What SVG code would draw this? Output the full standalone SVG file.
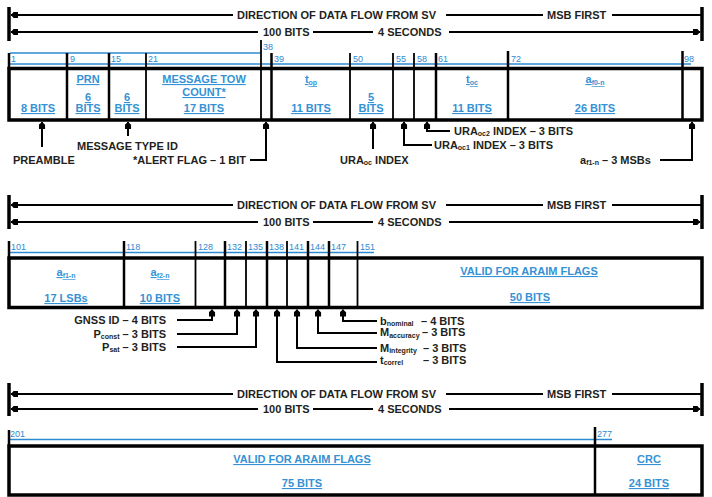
<svg xmlns="http://www.w3.org/2000/svg" width="712" height="497" viewBox="0 0 712 497">
<defs>
<style>
.hd{font-family:"Liberation Sans",Arial,sans-serif;font-size:11px;font-weight:bold;fill:#231f20}
.lbe{font-family:"Liberation Sans",Arial,sans-serif;font-size:11px;font-weight:bold;fill:#231f20;text-anchor:end}
.bl{font-family:"Liberation Sans",Arial,sans-serif;font-size:11px;font-weight:bold;fill:#3592d4;text-decoration:underline;text-anchor:middle}
.num{font-family:"Liberation Sans",Arial,sans-serif;font-size:9px;fill:#2b8ad2}
.sb{font-size:7px}
.bar{stroke:#000;stroke-width:3.5}
.box{stroke:#000;stroke-width:3.5;fill:none}
.dv{stroke:#000;stroke-width:2.5}
.dt{stroke:#000;stroke-width:1.8}
.bu{stroke:#2b8ad2;stroke-width:1.5}
.ar{stroke:#000;stroke-width:2;fill:none;marker-end:url(#ah)}
.hl{stroke:#000;stroke-width:2;fill:none}
.hla{stroke:#000;stroke-width:2;fill:none;marker-start:url(#ah)}
.hlb{stroke:#000;stroke-width:2;fill:none;marker-end:url(#ah)}
</style>
<marker id="ah" markerUnits="userSpaceOnUse" markerWidth="7" markerHeight="7" viewBox="0 0 8 8" refX="8" refY="4" orient="auto-start-reverse"><path d="M0,0.5 L5,0.5 L8,4 L5,7.5 L0,7.5 Z" fill="#000"/></marker>
</defs>

<!-- ============ SECTION 1 ============ -->
<g id="header1">
<line class="bar" x1="9" y1="7" x2="9" y2="41"/>
<line class="bar" x1="702" y1="7" x2="702" y2="41"/>
<line class="hla" x1="11" y1="15" x2="233" y2="15"/>
<line class="hl" x1="446" y1="15" x2="543" y2="15"/>
<line class="hl" x1="612" y1="15" x2="701" y2="15"/>
<line class="hla" x1="11" y1="32" x2="258" y2="32"/>
<line class="hl" x1="313" y1="32" x2="373" y2="32"/>
<line class="hlb" x1="449" y1="32" x2="700" y2="32"/>
<text class="hd" x="237" y="19">DIRECTION OF DATA FLOW FROM SV</text>
<text class="hd" x="547" y="19">MSB FIRST</text>
<text class="hd" x="263" y="36">100 BITS</text>
<text class="hd" x="378" y="36">4 SECONDS</text>
</g>

<g id="word1">
<line class="bu" x1="10" y1="53" x2="261" y2="53"/>
<line class="bu" x1="10" y1="64" x2="691" y2="64"/>
<rect class="box" x="9" y="68.5" width="693" height="51.5"/>
<line class="dv" x1="9" y1="53" x2="9" y2="70"/>
<line class="dv" x1="67" y1="53" x2="67" y2="120"/>
<line class="dv" x1="109" y1="53" x2="109" y2="120"/>
<line class="dt" x1="146" y1="53" x2="146" y2="120"/>
<line class="dt" x1="261" y1="40" x2="261" y2="120"/>
<line class="dv" x1="271.5" y1="53" x2="271.5" y2="120"/>
<line class="dt" x1="350" y1="53" x2="350" y2="120"/>
<line class="dt" x1="393" y1="53" x2="393" y2="120"/>
<line class="dt" x1="414" y1="53" x2="414" y2="120"/>
<line class="dv" x1="436" y1="53" x2="436" y2="120"/>
<line class="dv" x1="508" y1="51" x2="508" y2="120"/>
<line class="dv" x1="682.5" y1="51" x2="682.5" y2="120"/>
<text class="num" x="11" y="62">1</text>
<text class="num" x="70" y="62">9</text>
<text class="num" x="111" y="62">15</text>
<text class="num" x="148" y="62">21</text>
<text class="num" x="263" y="50">38</text>
<text class="num" x="274" y="62">39</text>
<text class="num" x="353" y="62">50</text>
<text class="num" x="396" y="62">55</text>
<text class="num" x="417" y="62">58</text>
<text class="num" x="438" y="62">61</text>
<text class="num" x="511" y="62">72</text>
<text class="num" x="684" y="62">98</text>
</g>
<g id="f-preamble"><text class="bl" x="38" y="112">8 BITS</text></g>
<g id="f-prn"><text class="bl" x="88" y="83">PRN</text><text class="bl" x="88" y="101">6</text><text class="bl" x="88" y="112">BITS</text></g>
<g id="f-msgtype"><text class="bl" x="127" y="101">6</text><text class="bl" x="127" y="112">BITS</text></g>
<g id="f-tow"><text class="bl" x="204" y="83">MESSAGE TOW</text><text class="bl" x="204" y="96">COUNT*</text><text class="bl" x="204" y="112">17 BITS</text></g>
<g id="f-top"><text class="bl" x="311" y="83">t<tspan class="sb" dy="2">op</tspan></text><text class="bl" x="311" y="112">11 BITS</text></g>
<g id="f-uraoc"><text class="bl" x="371" y="101">5</text><text class="bl" x="371" y="112">BITS</text></g>
<g id="f-toc"><text class="bl" x="472" y="83">t<tspan class="sb" dy="2">oc</tspan></text><text class="bl" x="472" y="112">11 BITS</text></g>
<g id="f-af0"><text class="bl" x="595" y="83">a<tspan class="sb" dy="2">f0-n</tspan></text><text class="bl" x="595" y="112">26 BITS</text></g>

<g id="labels1">
<text class="hd" x="13" y="164">PREAMBLE</text>
<text class="hd" x="77" y="150">MESSAGE TYPE ID</text>
<text class="hd" x="133" y="164">*ALERT FLAG – 1 BIT</text>
<text class="hd" x="340" y="164">URA<tspan class="sb" dy="1">oc</tspan><tspan dy="-1"> INDEX</tspan></text>
<text class="hd" x="434" y="149">URA<tspan class="sb" dy="1">oc1</tspan><tspan dy="-1"> INDEX – 3 BITS</tspan></text>
<text class="hd" x="454" y="135">URA<tspan class="sb" dy="1">oc2</tspan><tspan dy="-1"> INDEX – 3 BITS</tspan></text>
<text class="hd" x="580" y="164">a<tspan class="sb" dy="1">f1-n</tspan><tspan dy="-1"> – 3 MSBs</tspan></text>
</g>

<!-- ============ SECTION 2 ============ -->
<g id="header2">
<line class="bar" x1="9" y1="195" x2="9" y2="229"/>
<line class="bar" x1="702" y1="195" x2="702" y2="229"/>
<line class="hla" x1="11" y1="205" x2="233" y2="205"/>
<line class="hl" x1="446" y1="205" x2="543" y2="205"/>
<line class="hl" x1="612" y1="205" x2="701" y2="205"/>
<line class="hla" x1="11" y1="222" x2="258" y2="222"/>
<line class="hl" x1="313" y1="222" x2="373" y2="222"/>
<line class="hlb" x1="449" y1="222" x2="700" y2="222"/>
<text class="hd" x="237" y="209">DIRECTION OF DATA FLOW FROM SV</text>
<text class="hd" x="547" y="209">MSB FIRST</text>
<text class="hd" x="263" y="226">100 BITS</text>
<text class="hd" x="378" y="226">4 SECONDS</text>
</g>

<g id="word2">
<line class="bu" x1="10" y1="252.5" x2="374" y2="252.5"/>
<rect class="box" x="9" y="258" width="693" height="49.5"/>
<line class="dv" x1="9" y1="241" x2="9" y2="260"/>
<line class="dv" x1="124" y1="241" x2="124" y2="307"/>
<line class="dt" x1="195.5" y1="241" x2="195.5" y2="307"/>
<line class="dv" x1="225" y1="241" x2="225" y2="307"/>
<line class="dt" x1="246" y1="241" x2="246" y2="307"/>
<line class="dv" x1="267" y1="241" x2="267" y2="307"/>
<line class="dt" x1="287" y1="241" x2="287" y2="307"/>
<line class="dv" x1="308" y1="241" x2="308" y2="307"/>
<line class="dv" x1="329" y1="241" x2="329" y2="307"/>
<line class="dt" x1="357.5" y1="241" x2="357.5" y2="307"/>
<text class="num" x="11" y="250">101</text>
<text class="num" x="126" y="250">118</text>
<text class="num" x="198" y="250">128</text>
<text class="num" x="227" y="250">132</text>
<text class="num" x="248" y="250">135</text>
<text class="num" x="269" y="250">138</text>
<text class="num" x="289" y="250">141</text>
<text class="num" x="310" y="250">144</text>
<text class="num" x="331" y="250">147</text>
<text class="num" x="360" y="250">151</text>
</g>
<g id="f-af1"><text class="bl" x="66" y="276">a<tspan class="sb" dy="2">f1-n</tspan></text><text class="bl" x="66" y="302">17 LSBs</text></g>
<g id="f-af2"><text class="bl" x="160" y="276">a<tspan class="sb" dy="2">f2-n</tspan></text><text class="bl" x="160" y="302">10 BITS</text></g>
<g id="f-valid50"><text class="bl" x="529" y="275">VALID FOR ARAIM FLAGS</text><text class="bl" x="530" y="301">50 BITS</text></g>

<g id="labels2">
<text class="lbe" x="166" y="324">GNSS ID – 4 BITS</text>
<text class="lbe" x="166" y="338">P<tspan class="sb" dy="1">const</tspan><tspan dy="-1"> – 3 BITS</tspan></text>
<text class="lbe" x="166" y="351">P<tspan class="sb" dy="1">sat</tspan><tspan dy="-1"> – 3 BITS</tspan></text>
<text class="hd" x="380" y="325">b<tspan class="sb" dy="1">nominal</tspan><tspan x="421" dy="-1">– 4 BITS</tspan></text>
<text class="hd" x="380" y="336">M<tspan class="sb" dy="2">accuracy</tspan><tspan x="422" dy="-2">– 3 BITS</tspan></text>
<text class="hd" x="380" y="352">M<tspan class="sb" dy="1">integrity</tspan><tspan x="423" dy="-1">– 3 BITS</tspan></text>
<text class="hd" x="380" y="364">t<tspan class="sb" dy="1">correl</tspan><tspan x="423" dy="-1">– 3 BITS</tspan></text>
</g>

<!-- ============ SECTION 3 ============ -->
<g id="header3">
<line class="bar" x1="9" y1="383" x2="9" y2="416"/>
<line class="bar" x1="702" y1="383" x2="702" y2="416"/>
<line class="hla" x1="11" y1="394" x2="233" y2="394"/>
<line class="hl" x1="446" y1="394" x2="543" y2="394"/>
<line class="hl" x1="612" y1="394" x2="701" y2="394"/>
<line class="hla" x1="11" y1="409" x2="258" y2="409"/>
<line class="hl" x1="313" y1="409" x2="373" y2="409"/>
<line class="hlb" x1="449" y1="409" x2="700" y2="409"/>
<text class="hd" x="237" y="398">DIRECTION OF DATA FLOW FROM SV</text>
<text class="hd" x="547" y="398">MSB FIRST</text>
<text class="hd" x="263" y="413">100 BITS</text>
<text class="hd" x="378" y="413">4 SECONDS</text>
</g>

<g id="word3">
<line class="bu" x1="10" y1="439.5" x2="612" y2="439.5"/>
<rect class="box" x="9" y="446" width="693" height="49"/>
<line class="dv" x1="9" y1="430" x2="9" y2="448"/>
<line class="dv" x1="595" y1="427" x2="595" y2="495"/>
<text class="num" x="10" y="437">201</text>
<text class="num" x="597" y="437">277</text>
</g>
<g id="f-valid75"><text class="bl" x="302" y="463">VALID FOR ARAIM FLAGS</text><text class="bl" x="302" y="487">75 BITS</text></g>
<g id="f-crc"><text class="bl" x="649" y="463">CRC</text><text class="bl" x="649" y="487">24 BITS</text></g>

<!-- ============ CONNECTORS ============ -->
<g id="connectors">
<polyline class="ar" points="42,147 42,122"/>
<polyline class="ar" points="128,136 128,122"/>
<polyline class="ar" points="250,160 266,160 266,122"/>
<polyline class="ar" points="373,149 373,122"/>
<polyline class="ar" points="432,145 404,145 404,122"/>
<polyline class="ar" points="450,131 427,131 427,122"/>
<polyline class="ar" points="660,160 692,160 692,122"/>

<polyline class="ar" points="177,320 212,320 212,309.5"/>
<polyline class="ar" points="177,334 237,334 237,309.5"/>
<polyline class="ar" points="177,347 256,347 256,309.5"/>
<polyline class="ar" points="377,362 277,362 277,309.5"/>
<polyline class="ar" points="377,348 297,348 297,309.5"/>
<polyline class="ar" points="377,333 318,333 318,309.5"/>
<polyline class="ar" points="377,321 343,321 343,309.5"/>
</g>
</svg>
